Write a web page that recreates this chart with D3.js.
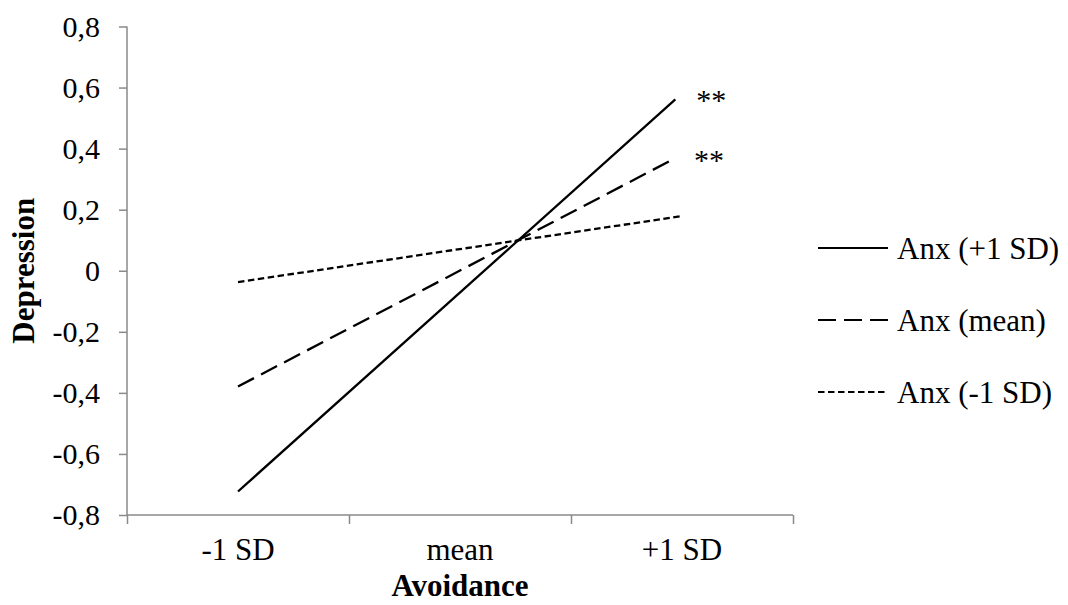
<!DOCTYPE html>
<html lang="en">

<head>
    <meta charset="UTF-8">
    <title>Depression by Avoidance</title>
    <style>
        body { margin: 0; background: #fff; }
        svg text { font-family: 'Liberation Serif', 'Times New Roman', Times, 'DejaVu Serif', serif !important; fill: #000; }
    </style>
</head>

<body>
    <script src="https://cdn.jsdelivr.net/npm/d3@7/dist/d3.min.js"></script>
    <script>
        // avoidance categories (in SD units) and y ticks
        const categories = ['-1 SD', 'mean', '+1 SD'];
        const categoryX = [-1, 0, 1];
        const yTicks = [-0.8, -0.6, -0.4, -0.2, 0, 0.2, 0.4, 0.6, 0.8];

        // simple slopes, two end points each
        const seriesNames = ['Anx (+1 SD)', 'Anx (mean)', 'Anx (-1 SD)'];
        const seriesX = [[-1, 0.97], [-1, 0.96], [-1, 1.0]];
        const seriesY = [[-0.723, 0.561], [-0.379, 0.365], [-0.037, 0.179]];
        const seriesSig = ['**', '**', ''];

        const dashes = ['none', '18,8', '6.5,3.5'];

        const w = 1068;
        const h = 605;
        const svg = d3.select('body')
            .append('svg')
            .attr('width', w)
            .attr('height', h)

        const xScale = d3.scaleLinear()
            .domain([-1.5, 1.5])
            .range([127, 793]);

        const yScale = d3.scaleLinear()
            .domain([-0.8, 0.8])
            .range([515, 26.5]);

        const fmt = (v) => v === 0 ? '0' : v.toFixed(1).replace('.', ',');

        // y axis
        const yAxis = svg.append('g')
            .attr('transform', `translate(${xScale(-1.5)},0)`)
            .call(d3.axisLeft(yScale).tickValues(yTicks).tickFormat(fmt).tickSize(8).tickPadding(19));

        // x axis, ticks on the category boundaries
        const xAxis = svg.append('g')
            .attr('transform', `translate(0,${yScale(-0.8)})`)
            .call(d3.axisBottom(xScale).tickValues([-1.5, -0.5, 0.5, 1.5]).tickFormat('').tickSize(9));

        svg.selectAll('.domain')
            .attr('stroke', '#8a8a8a')
            .attr('stroke-width', 1.5);
        svg.selectAll('.tick line')
            .attr('stroke', '#8a8a8a')
            .attr('stroke-width', 1.5);
        yAxis.selectAll('.domain').attr('d', `M0,${yScale(0.8)}V${yScale(-0.8)}`);
        xAxis.selectAll('.domain').attr('d', `M${xScale(-1.5)},0H${xScale(1.5)}`);
        yAxis.selectAll('.tick text')
            .attr('font-size', '30px')
            .attr('fill', '#000');

        svg.selectAll('.xlabel')
            .data(categories)
            .enter()
            .append('text')
            .attr('class', 'xlabel')
            .attr('x', (d, i) => xScale(categoryX[i]))
            .attr('y', 560)
            .attr('text-anchor', 'middle')
            .attr('font-size', '31px')
            .text((d) => d);

        // axis titles
        svg.append('text')
            .attr('x', xScale(0))
            .attr('y', 596)
            .attr('text-anchor', 'middle')
            .attr('font-size', '31px')
            .attr('font-weight', 'bold')
            .text('Avoidance');

        svg.append('text')
            .attr('transform', `translate(34,${yScale(0)}) rotate(-90)`)
            .attr('text-anchor', 'middle')
            .attr('font-size', '31px')
            .attr('font-weight', 'bold')
            .text('Depression');

        const line = d3.line()
            .x((d) => xScale(d[0]))
            .y((d) => yScale(d[1]));

        svg.selectAll('.slope')
            .data(seriesNames)
            .enter()
            .append('path')
            .attr('class', 'slope')
            .attr('d', (d, i) => line(d3.zip(seriesX[i], seriesY[i])))
            .attr('fill', 'none')
            .attr('stroke', '#000')
            .attr('stroke-width', 2.3)
            .attr('stroke-dasharray', (d, i) => dashes[i]);

        // significance marks at the line ends
        svg.selectAll('.sig')
            .data(seriesSig)
            .enter()
            .append('text')
            .attr('class', 'sig')
            .attr('x', (d, i) => xScale(seriesX[i][1]) + 21)
            .attr('y', (d, i) => yScale(seriesY[i][1]) + 11)
            .attr('font-size', '30px')
            .text((d) => d);

        // legend
        const legend = svg.selectAll('.legend')
            .data(seriesNames)
            .enter()
            .append('g')
            .attr('class', 'legend')
            .attr('transform', (d, i) => `translate(818,${248 + i * 72})`);

        legend.append('line')
            .attr('x1', 0)
            .attr('x2', 70)
            .attr('stroke', '#000')
            .attr('stroke-width', 2)
            .attr('stroke-dasharray', (d, i) => dashes[i]);

        legend.append('text')
            .attr('x', 79)
            .attr('dy', '0.35em')
            .attr('font-size', '31px')
            .text((d) => d);
    </script>
</body>

</html>
